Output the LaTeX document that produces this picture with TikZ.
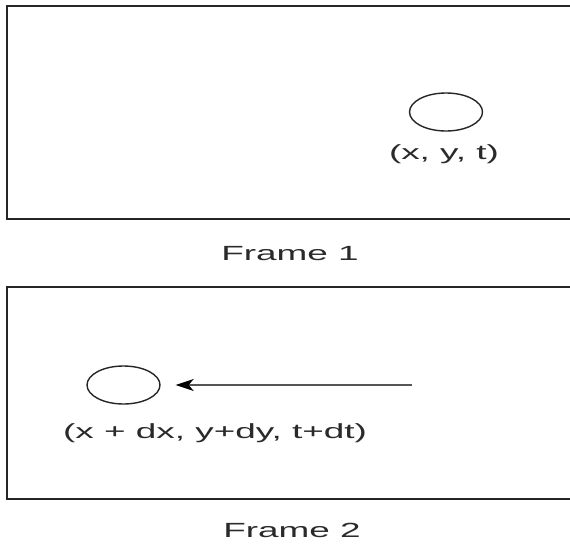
\documentclass[tikz,border=0pt]{standalone}
\usepackage{fontspec}
\setmainfont{Liberation Sans}[FakeStretch=1.8]
\usetikzlibrary{shapes.geometric,arrows.meta}
\definecolor{txtgray}{HTML}{2A2A2A}
\definecolor{linegray}{HTML}{555555}
\tikzset{
  framebox/.style={draw=black!85, line width=1.6pt, rectangle, inner sep=0pt},
  blob/.style={draw=black!85, line width=1.4pt, ellipse, inner sep=0pt, minimum width=73pt, minimum height=38pt},
  lbl/.style={text=txtgray, inner sep=0pt, font=\fontsize{20.5}{24}\selectfont},
  motion/.style={draw=linegray, line width=1.5pt, -{Stealth[length=18pt,width=12pt,inset=5pt,color=black,fill=black]}, shorten >=15pt},
}
\begin{document}
\begin{tikzpicture}[x=1pt,y=-1pt]
\clip (0,0) rectangle (570,544);
\fill[white] (0,0) rectangle (570,544);
\node[framebox, minimum width=583pt, minimum height=213pt] (f1) at (298.5,112.5) {};
\node[framebox, minimum width=583pt, minimum height=212pt] (f2) at (298.5,393) {};
\node[blob] (c1) at (446,112) {};
\node[lbl] (t1) at (444,154) {(x, y, t)};
\node[blob] (c2) at (123.5,385) {};
\node[lbl] (t2) at (215,433) {(x + dx, y+dy, t+dt)};
\coordinate (s) at (412,385);
\draw[motion] (s) -- (c2.east);
\node[lbl] (l1) at (290,254) {Frame 1};
\node[lbl] (l2) at (292,530) {Frame 2};
\end{tikzpicture}
\end{document}
